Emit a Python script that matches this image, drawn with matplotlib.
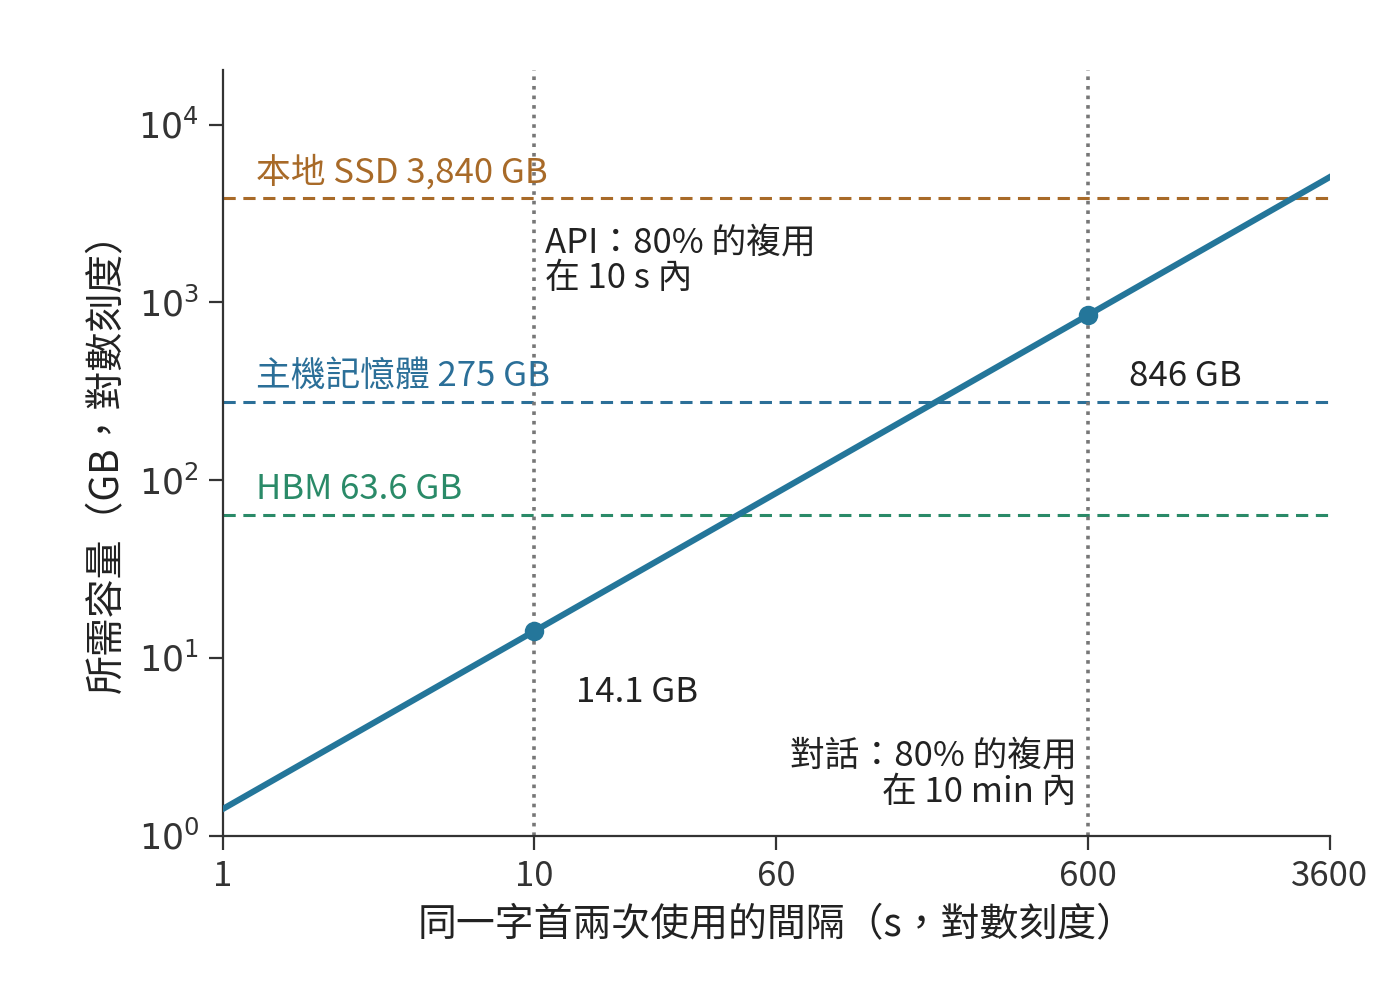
import matplotlib
matplotlib.use("Agg")
import matplotlib.pyplot as plt
import matplotlib.transforms as mtransforms

plt.rcParams['font.family'] = ['Noto Sans CJK TC', 'DejaVu Sans']
plt.rcParams['mathtext.fontset'] = 'dejavusans'

line_x = [1, 10, 600, 3600]
line_y = [1.41, 14.1, 846, 5076]
point_x = [10, 600]
point_y = [14.1, 846]
point_labels = ["14.1 GB", "846 GB"]
tiers = [("本地 SSD 3,840 GB", 3840, "#a86a28"),
         ("主機記憶體 275 GB", 275, "#2b6f98"),
         ("HBM 63.6 GB", 63.6, "#2a8a68")]
xticks = [1, 10, 60, 600, 3600]
yticks = [1, 10, 100, 1000, 10000]

fig = plt.figure(figsize=(7, 5.04), dpi=200)
ax = fig.add_axes([0.159, 0.171, 0.791, 0.76])
ax.set_xscale('log'); ax.set_yscale('log')
ax.set_xlim(1, 3600); ax.set_ylim(1, 20400)

lc = "#24769a"
for lab, v, c in tiers:
    ax.axhline(v, color=c, ls='--', lw=1.1, dashes=(4, 2.5))
    ax.annotate(lab, xy=(0.03, v), xycoords=('axes fraction', 'data'),
                xytext=(0, 3), textcoords='offset points', color=c, fontsize=12.5, va='bottom')
for xv in point_x:
    ax.axvline(xv, color='#777777', ls=':', lw=1.3)
ax.plot(line_x, line_y, color=lc, lw=2.2, zorder=3)
ax.plot(point_x, point_y, 'o', color=lc, ms=6, zorder=4)
ax.annotate(point_labels[0], xy=(10, 14.1), xytext=(15, -22), textcoords='offset points',
            fontsize=12.5, va='center', color='#222222')
ax.annotate(point_labels[1], xy=(600, 846), xytext=(15, -22), textcoords='offset points',
            fontsize=12.5, va='center', color='#222222')
ax.annotate("API：80% 的複用\n在 10 s 內", xy=(10, 1700), xytext=(4, 0), textcoords='offset points',
            fontsize=12.5, va='center', ha='left', color='#222222', linespacing=1.0)
ax.annotate("對話：80% 的複用\n在 10 min 內", xy=(600, 2.2), xytext=(-4, 0), textcoords='offset points',
            fontsize=12.5, va='center', ha='right', color='#222222', linespacing=1.0)

ax.set_xticks(xticks)
ax.set_xticklabels([str(t) for t in xticks])
ax.xaxis.set_minor_locator(matplotlib.ticker.NullLocator())
ax.yaxis.set_minor_locator(matplotlib.ticker.NullLocator())
ax.set_yticks(yticks)
ax.set_yticklabels([r'$10^{%d}$' % i for i in range(5)])
ax.tick_params(labelsize=12.5, colors='#333333', length=5)
for s in ['top', 'right']:
    ax.spines[s].set_visible(False)
for s in ['left', 'bottom']:
    ax.spines[s].set_color('#333333')
ax.set_xlabel("同一字首兩次使用的間隔（s，對數刻度）", fontsize=14, color='#222222')
ax.set_ylabel("所需容量（GB，對數刻度）", fontsize=14, color='#222222')
fig.savefig("out.png", dpi=200)
